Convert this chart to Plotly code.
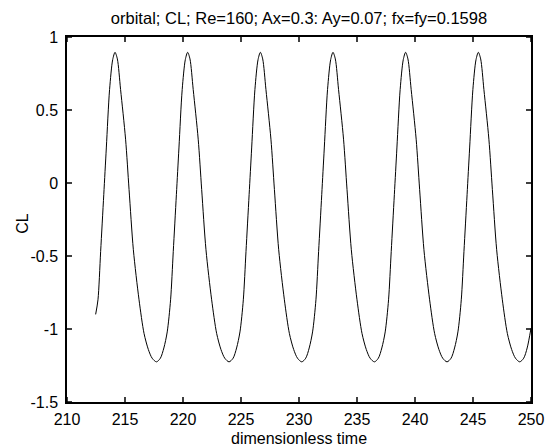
import plotly.graph_objects as go

time = [
    212.47, 212.67, 212.90, 213.17, 213.39, 213.67, 213.94, 214.14, 214.34, 214.62,
    215.05, 215.35, 215.72, 216.21, 216.64, 217.01, 217.34, 217.71,
    218.05, 218.35, 218.64, 218.93, 219.16, 219.43, 219.65, 219.93, 220.20, 220.40,
    220.60, 220.88, 221.31, 221.61, 221.98, 222.47, 222.90, 223.27, 223.60, 223.97,
    224.32, 224.62, 224.91, 225.20, 225.43, 225.70, 225.92, 226.20, 226.47, 226.67,
    226.87, 227.15, 227.58, 227.88, 228.25, 228.74, 229.17, 229.54, 229.87, 230.24,
    230.58, 230.88, 231.17, 231.46, 231.69, 231.96, 232.18, 232.46, 232.73, 232.93,
    233.13, 233.41, 233.84, 234.14, 234.51, 235.00, 235.43, 235.80, 236.13, 236.50,
    236.84, 237.14, 237.43, 237.72, 237.95, 238.22, 238.44, 238.72, 238.99, 239.19,
    239.39, 239.67, 240.10, 240.40, 240.77, 241.26, 241.69, 242.06, 242.39, 242.76,
    243.11, 243.41, 243.70, 243.99, 244.22, 244.49, 244.71, 244.99, 245.26, 245.46,
    245.66, 245.94, 246.37, 246.67, 247.04, 247.53, 247.96, 248.33, 248.66, 249.03,
    249.37, 249.67, 250.00,
]
cl = [
    -0.90, -0.80, -0.47, -0.08, 0.24, 0.64, 0.845, 0.895, 0.85, 0.64,
    0.30, -0.045, -0.457, -0.80, -1.03, -1.14, -1.20, -1.225,
    -1.20, -1.13, -1.02, -0.80, -0.47, -0.08, 0.24, 0.64, 0.845, 0.895,
    0.85, 0.64, 0.30, -0.045, -0.457, -0.80, -1.03, -1.14, -1.20, -1.225,
    -1.20, -1.13, -1.02, -0.80, -0.47, -0.08, 0.24, 0.64, 0.845, 0.895,
    0.85, 0.64, 0.30, -0.045, -0.457, -0.80, -1.03, -1.14, -1.20, -1.225,
    -1.20, -1.13, -1.02, -0.80, -0.47, -0.08, 0.24, 0.64, 0.845, 0.895,
    0.85, 0.64, 0.30, -0.045, -0.457, -0.80, -1.03, -1.14, -1.20, -1.225,
    -1.20, -1.13, -1.02, -0.80, -0.47, -0.08, 0.24, 0.64, 0.845, 0.895,
    0.85, 0.64, 0.30, -0.045, -0.457, -0.80, -1.03, -1.14, -1.20, -1.225,
    -1.20, -1.13, -1.02, -0.80, -0.47, -0.08, 0.24, 0.64, 0.845, 0.895,
    0.85, 0.64, 0.30, -0.045, -0.457, -0.80, -1.03, -1.14, -1.20, -1.225,
    -1.20, -1.13, -0.995,
]

x_range = [210, 250]
y_range = [-1.5, 1]
x_ticks = [210, 215, 220, 225, 230, 235, 240, 245, 250]
y_ticks = [-1.5, -1, -0.5, 0, 0.5, 1]
y_tick_text = ["-1.5", "-1", "-0.5", "0", "0.5", "1"]

title_text = "orbital; CL; Re=160; Ax=0.3: Ay=0.07; fx=fy=0.1598"
x_title = "dimensionless time"
y_title = "CL"

W, H = 545, 448
L, R, T, B = 67, 14, 37, 46
plot_w = W - L - R
plot_h = H - T - B
tick_px = 5
tlen_x = tick_px * (x_range[1] - x_range[0]) / plot_w
tlen_y = tick_px * (y_range[1] - y_range[0]) / plot_h

fig = go.Figure()
fig.add_trace(go.Scatter(
    x=time, y=cl, mode="lines",
    line=dict(color="black", width=1, shape="spline", smoothing=0.8),
    showlegend=False, hoverinfo="skip",
))

# MATLAB-style inward ticks on all four sides
fx, fy = [], []
x0, x1 = x_range
y0, y1 = y_range
for xt in x_ticks:
    fx += [xt, xt, None, xt, xt, None]
    fy += [y0, y0 + tlen_y, None, y1, y1 - tlen_y, None]
for yt in y_ticks:
    fx += [x0, x0 + tlen_x, None, x1, x1 - tlen_x, None]
    fy += [yt, yt, None, yt, yt, None]
fig.add_trace(go.Scatter(
    x=fx, y=fy, mode="lines", line=dict(color="black", width=1.5),
    showlegend=False, hoverinfo="skip", connectgaps=False,
))

font_family = "Liberation Sans, Arial, sans-serif"
fig.update_layout(
    width=W, height=H,
    margin=dict(l=L, r=R, t=T, b=B, pad=0),
    paper_bgcolor="white", plot_bgcolor="white",
    font=dict(family=font_family, size=16, color="black"),
    title=dict(text=title_text, x=0.5, xanchor="center", y=1 - 18 / H,
               yanchor="middle", xref="paper", yref="container",
               font=dict(size=16.5, color="black")),
    annotations=[
        dict(text=x_title, xref="paper", yref="paper", x=0.5,
             y=-(438.5 - (H - B)) / plot_h,
             xanchor="center", yanchor="middle", showarrow=False, font=dict(size=16)),
        dict(text=y_title, xref="paper", yref="paper", x=(21.7 - L) / plot_w, y=0.49,
             xanchor="center", yanchor="middle", textangle=-90, showarrow=False,
             font=dict(size=16)),
    ],
)

fig.update_xaxes(
    range=x_range, tickvals=x_ticks, ticktext=[str(v) for v in x_ticks],
    ticks="", showline=True, linecolor="black", linewidth=1.5, mirror=True,
    showgrid=False, zeroline=False, automargin=False,
    tickfont=dict(size=16), ticklabelstandoff=2,
)
fig.update_yaxes(
    range=y_range, tickvals=y_ticks, ticktext=y_tick_text,
    ticks="", showline=True, linecolor="black", linewidth=1.5, mirror=True,
    showgrid=False, zeroline=False, automargin=False,
    tickfont=dict(size=16), ticklabelstandoff=4,
)

fig.write_html("out.html", config={"displayModeBar": False},
               post_script="document.body.style.margin='0';")
